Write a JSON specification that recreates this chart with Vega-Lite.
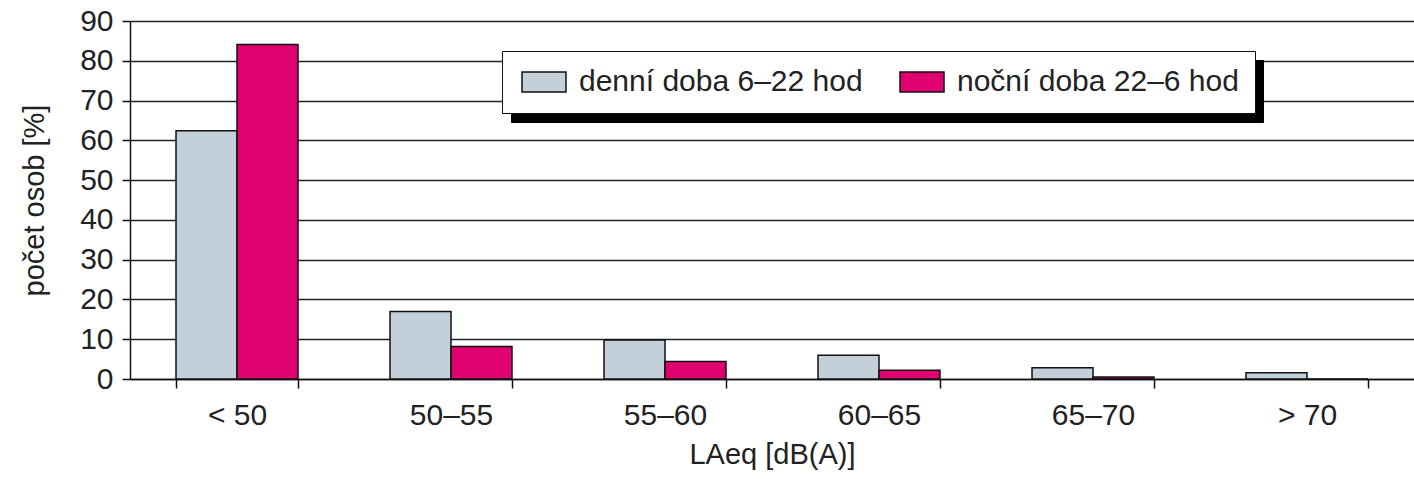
{
  "$schema": "https://vega.github.io/schema/vega-lite/v6.json",
  "autosize": {"type": "none"},
  "width": 1284,
  "height": 358,
  "padding": {"left": 130, "top": 21, "right": 0, "bottom": 100},
  "background": "white",
  "config": {
    "view": {"stroke": null},
    "font": "Liberation Sans",
    "axis": {"labelFont": "Liberation Sans", "titleFont": "Liberation Sans", "labelColor": "#222", "titleColor": "#222", "domainColor": "#111", "tickColor": "#111", "domainWidth": 1.5, "tickWidth": 1.5, "gridColor": "#222", "gridWidth": 1.5, "gridOpacity": 1}
  },
  "data": {
    "values": [
      {"kat": "< 50", "doba": "denní doba 6–22 hod", "procento": 62.4},
      {"kat": "< 50", "doba": "noční doba 22–6 hod", "procento": 84.1},
      {"kat": "50–55", "doba": "denní doba 6–22 hod", "procento": 17.0},
      {"kat": "50–55", "doba": "noční doba 22–6 hod", "procento": 8.2},
      {"kat": "55–60", "doba": "denní doba 6–22 hod", "procento": 9.8},
      {"kat": "55–60", "doba": "noční doba 22–6 hod", "procento": 4.4},
      {"kat": "60–65", "doba": "denní doba 6–22 hod", "procento": 6.0},
      {"kat": "60–65", "doba": "noční doba 22–6 hod", "procento": 2.2},
      {"kat": "65–70", "doba": "denní doba 6–22 hod", "procento": 2.8},
      {"kat": "65–70", "doba": "noční doba 22–6 hod", "procento": 0.5},
      {"kat": "> 70", "doba": "denní doba 6–22 hod", "procento": 1.6},
      {"kat": "> 70", "doba": "noční doba 22–6 hod", "procento": 0}
    ]
  },
  "encoding": {
    "x": {
      "field": "kat", "type": "nominal", "sort": null,
      "scale": {"paddingInner": 0.43, "paddingOuter": 0.215},
      "axis": {"title": "LAeq [dB(A)]", "labelAngle": 0, "labelFontSize": 30, "titleFontSize": 29, "titleFontWeight": "normal", "tickBand": "extent", "tickSize": 9, "labelPadding": 12, "titlePadding": 10, "labelLimit": 0, "grid": false}
    },
    "xOffset": {"field": "doba", "type": "nominal", "scale": {"paddingInner": 0, "paddingOuter": 0}},
    "y": {
      "field": "procento", "type": "quantitative",
      "scale": {"domain": [0, 90], "nice": false},
      "axis": {"title": "počet osob [%]", "values": [0,10,20,30,40,50,60,70,80,90], "labelFontSize": 30, "titleFontSize": 29, "titleFontWeight": "normal", "tickSize": 8, "labelPadding": 9, "titlePadding": 30, "grid": true}
    }
  },
  "layer": [
    {
      "mark": {"type": "bar", "opacity": 0},
      "encoding": {
        "fill": {
          "field": "doba", "type": "nominal",
          "scale": {"range": ["#c3cfd9", "#e0006f"]},
          "legend": {
            "title": null, "orient": "none", "legendX": 381, "legendY": 39, "direction": "horizontal",
            "fillColor": "black", "strokeColor": "black",
            "padding": 16, "columnPadding": 624, "labelOffset": 0, "labelExpr": "''",
            "labelFontSize": 30,
            "symbolType": "M-1,-0.9L3,-0.9L3,0.9L-1,0.9Z", "symbolSize": 484,
            "symbolOpacity": 0, "symbolStrokeWidth": 0
          }
        }
      }
    },
    {
      "mark": {"type": "bar", "stroke": "#111", "strokeWidth": 1.5},
      "encoding": {
        "fill": {
          "field": "doba", "type": "nominal",
          "scale": {"range": ["#c3cfd9", "#e0006f"]},
          "legend": {
            "title": null, "orient": "none", "legendX": 372, "legendY": 30, "direction": "horizontal",
            "fillColor": "white", "strokeColor": "#111",
            "padding": 16, "columnPadding": 33, "labelOffset": 31, "labelLimit": 0,
            "labelFontSize": 30, "labelColor": "#222", "labelFont": "Liberation Sans",
            "symbolType": "M-1,-0.9L3,-0.9L3,0.9L-1,0.9Z", "symbolSize": 484,
            "symbolStrokeColor": "#111", "symbolStrokeWidth": 1.5, "symbolOpacity": 1
          }
        }
      }
    }
  ],
  "resolve": {"legend": {"fill": "independent"}}
}
